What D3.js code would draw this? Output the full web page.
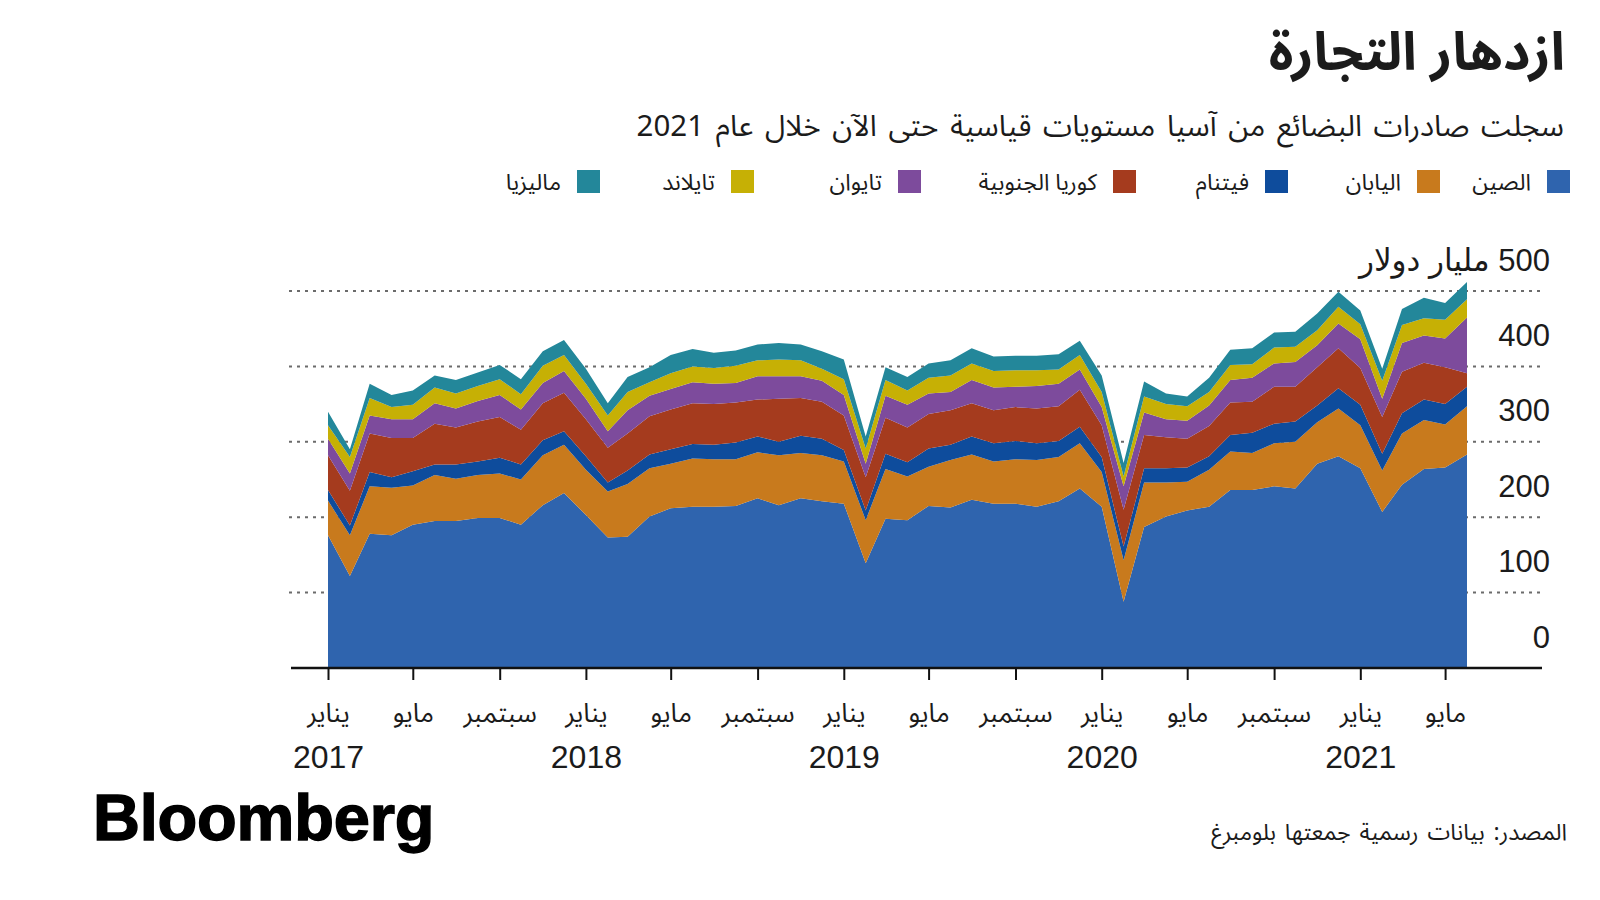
<!DOCTYPE html>
<html><head><meta charset="utf-8">
<script src="https://cdn.jsdelivr.net/npm/d3@7"></script>
<style>
body{margin:0;background:#fff;}
svg{display:block;}
</style></head><body>
<svg id="c" width="1600" height="900"></svg>
<script>
// ---------- DATA ----------
const months = ["2017-01","2017-02","2017-03","2017-04","2017-05","2017-06","2017-07","2017-08","2017-09","2017-10","2017-11","2017-12",
"2018-01","2018-02","2018-03","2018-04","2018-05","2018-06","2018-07","2018-08","2018-09","2018-10","2018-11","2018-12",
"2019-01","2019-02","2019-03","2019-04","2019-05","2019-06","2019-07","2019-08","2019-09","2019-10","2019-11","2019-12",
"2020-01","2020-02","2020-03","2020-04","2020-05","2020-06","2020-07","2020-08","2020-09","2020-10","2020-11","2020-12",
"2021-01","2021-02","2021-03","2021-04","2021-05","2021-06"];

const seriesKeys  = ["china","japan","vietnam","korea","taiwan","thailand","malaysia"];
const seriesNames = ["الصين","اليابان","فيتنام","كوريا الجنوبية","تايوان","تايلاند","ماليزيا"];

const china    = [176,122,178,176,190,195,195,199,199,190,216,232,203,173,174,201,212,214,214,215,225,216,225,221,218,139,198,196,215,213,223,218,218,214,221,238,214,88,187,201,209,214,236,236,241,238,271,281,265,207,243,264,266,283];
const japan    = [46,54,63,63,52,61,56,57,59,60,66,64,60,61,70,64,59,64,63,62,61,66,60,61,56,57,66,58,52,63,60,56,59,62,59,60,46,55,59,45,38,49,51,49,57,62,55,63,57,55,68,65,57,64];
const vietnam  = [14,13,19,14,19,14,19,18,21,20,20,18,18,12,18,18,19,19,19,22,21,18,23,22,15,13,20,19,24,20,24,24,24,22,21,22,20,18,19,19,19,18,22,27,26,27,22,27,27,22,27,27,27,26];
const korea    = [46,46,51,52,44,54,49,53,54,46,49,51,49,46,49,51,53,54,54,53,49,57,50,49,46,44,48,46,46,46,44,44,45,46,46,49,42,49,44,41,38,40,43,41,49,46,51,53,49,49,55,49,49,18];
const taiwan   = [22,23,24,25,25,27,25,27,29,27,27,29,27,22,31,27,27,28,27,26,31,30,29,28,27,18,29,30,27,24,31,30,27,30,30,27,24,31,30,24,24,27,30,32,31,33,29,33,38,24,38,36,38,74];
const thailand = [18,22,23,16,19,21,20,20,21,20,23,21,20,21,24,18,21,21,21,23,21,22,21,16,21,20,21,19,21,22,22,22,22,21,19,19,20,13,21,20,19,18,20,18,21,20,20,22,20,24,24,23,25,24];
const malaysia = [18,10,19,16,19,16,18,18,19,20,19,20,20,16,20,20,24,23,20,20,21,22,21,23,26,16,17,18,19,20,20,19,19,19,20,19,22,18,20,14,13,19,20,21,20,20,22,20,18,16,21,27,22,23];

const yTicks = [0,100,200,300,400,500];
const yTickLabels = ["0","100","200","300","400","500 مليار دولار"];
const xTickMonths = ["2017-01","2017-05","2017-09","2018-01","2018-05","2018-09","2019-01","2019-05","2019-09","2020-01","2020-05","2020-09","2021-01","2021-05"];
const monthLabels = {0:"يناير",4:"مايو",8:"سبتمبر"};

const titleText = "ازدهار التجارة";
const subtitleText = "سجلت صادرات البضائع من آسيا مستويات قياسية حتى الآن خلال عام 2021";
const sourceText = "المصدر: بيانات رسمية جمعتها بلومبرغ";

// ---------- STYLE / LAYOUT ----------
const colors = ["#2f64ae","#c87a1d","#0e4c9c","#a53b1e","#7d4b9c","#c6b005","#23879a"];
const legendRight = [1570,1440,1288,1136,921,754,600];
const AR = "'Noto Sans Arabic','DejaVu Sans',sans-serif";
const NUM = "'Liberation Sans','DejaVu Sans',sans-serif";
const ink = "#1b1b1b";

const svg = d3.select("#c");
const parse = d3.timeParse("%Y-%m");
const seriesArrays = [china,japan,vietnam,korea,taiwan,thailand,malaysia];
const table = months.map((m,i)=>{
  const o = {date: parse(m)};
  seriesKeys.forEach((k,j)=> o[k] = seriesArrays[j][i]);
  return o;
});

const x = d3.scaleTime().domain([parse("2017-01"), parse("2021-06")]).range([328,1467]);
const y = d3.scaleLinear().domain([0,500]).range([668,291]);

// gridlines
svg.append("g").selectAll("line").data(yTicks.filter(d=>d>0)).join("line")
  .attr("x1",289).attr("x2",1545)
  .attr("y1",d=>y(d)).attr("y2",d=>y(d))
  .attr("stroke","#6b6b6b").attr("stroke-width",2).attr("stroke-dasharray","3 5");

// stacked areas
const stack = d3.stack().keys(seriesKeys);
const layers = stack(table);
const area = d3.area().x(d=>x(d.data.date)).y0(d=>y(d[0])).y1(d=>y(d[1]));
svg.append("g").selectAll("path").data(layers).join("path")
  .attr("d",area).attr("fill",(d,i)=>colors[i]);

// y labels
svg.append("g").selectAll("text").data(yTicks).join("text")
  .attr("x",1550).attr("y",d=>y(d)-31)
  .attr("dominant-baseline","central")
  .attr("direction","rtl").attr("text-anchor","start")
  .attr("font-family",NUM).attr("font-size",31).attr("fill",ink)
  .text((d,i)=>yTickLabels[i]);

// x axis baseline
svg.append("line").attr("x1",291).attr("x2",1542).attr("y1",y(0)).attr("y2",y(0))
  .attr("stroke","#111").attr("stroke-width",2.5);

const xAxis = d3.axisBottom(x).tickValues(xTickMonths.map(parse)).tickSize(12).tickFormat(d=>monthLabels[d.getMonth()]);
const ax = svg.append("g").attr("transform",`translate(0,${y(0)})`).call(xAxis);
ax.select(".domain").remove();
ax.selectAll(".tick line").attr("stroke","#111").attr("stroke-width",2);
ax.selectAll(".tick text").attr("y",45).attr("dy",null).attr("dominant-baseline","central")
  .attr("font-family",AR).attr("font-size",26).attr("fill",ink);
ax.selectAll(".tick").filter(d=>d.getMonth()===0).append("text")
  .attr("y",89).attr("dominant-baseline","central").attr("text-anchor","middle")
  .attr("font-family",NUM).attr("font-size",32).attr("fill",ink)
  .text(d=>d.getFullYear());

// title, subtitle
svg.append("text").attr("x",1565).attr("y",70).attr("direction","rtl").attr("text-anchor","start")
  .attr("font-family",AR).attr("font-weight",700).attr("font-size",53).attr("fill",ink).text(titleText);
svg.append("text").attr("x",1564).attr("y",136).attr("direction","rtl").attr("text-anchor","start")
  .attr("font-family",AR).attr("font-size",29.5).attr("word-spacing",4).attr("fill",ink).text(subtitleText);

// legend
const lg = svg.append("g").selectAll("g").data(seriesNames).join("g");
lg.append("rect").attr("x",(d,i)=>legendRight[i]-23).attr("y",170).attr("width",23).attr("height",23)
  .attr("fill",(d,i)=>colors[i]);
lg.append("text").attr("x",(d,i)=>legendRight[i]-39).attr("y",182).attr("dominant-baseline","central")
  .attr("direction","rtl").attr("text-anchor","start")
  .attr("font-family",AR).attr("font-size",23).attr("fill",ink).text(d=>d);

// footer
svg.append("text").attr("x",93).attr("y",840).attr("font-family","'Liberation Sans',Arial,sans-serif")
  .attr("font-weight",700).attr("font-size",65).attr("letter-spacing",-0.2)
  .attr("stroke","#000").attr("stroke-width",1.4).attr("fill","#000").text("Bloomberg");
svg.append("text").attr("x",1567).attr("y",832).attr("dominant-baseline","central")
  .attr("direction","rtl").attr("text-anchor","start")
  .attr("font-family",AR).attr("font-size",23).attr("word-spacing",3).attr("fill",ink).text(sourceText);
</script>
</body></html>
